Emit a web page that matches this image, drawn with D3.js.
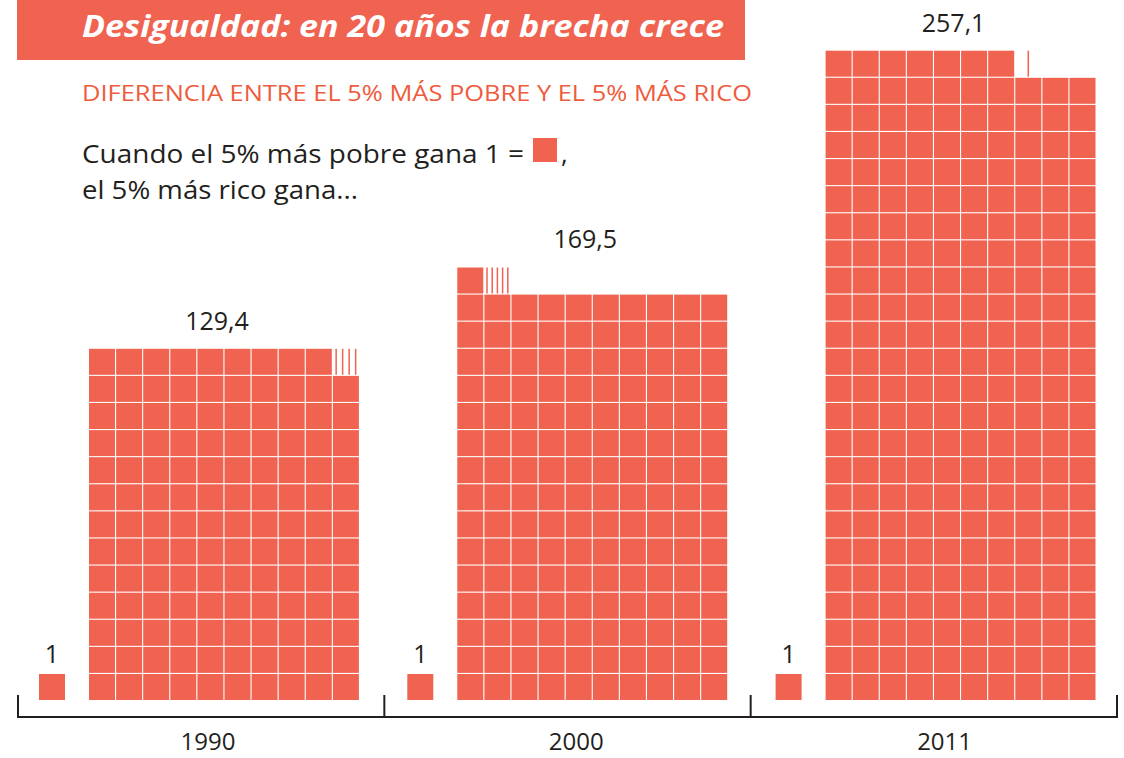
<!DOCTYPE html>
<html>
<head>
<meta charset="utf-8">
<script src="https://cdn.jsdelivr.net/npm/d3@7"></script>
<style>
  html, body { margin: 0; padding: 0; background: #ffffff; }
  svg { display: block; }
</style>
</head>
<body>
<script>
// ---- data ----
const years = ["1990", "2000", "2011"];
const richLabels = ["129,4", "169,5", "257,1"];
const richValues = [129.4, 169.5, 257.1];
// units drawn in the waffle (whole cells + tenths)
const cellsShown = [129.4, 151.5, 237.1];
const poorValues = [1, 1, 1];
const poorLabels = ["1", "1", "1"];
const titleText = "Desigualdad: en 20 años la brecha crece";
const subtitleText = "DIFERENCIA ENTRE EL 5% MÁS POBRE Y EL 5% MÁS RICO";
const legendLine1 = "Cuando el 5% más pobre gana 1 = ";
const legendLine2 = "el 5% más rico gana...";

// ---- layout ----
const W = 1124, H = 758;
const RED = "#F06351", ORANGE = "#EE5B3E", DARK = "#231F20";
const COLS = 10, PITCH = 27.1, CELL = 26;
const baseY = 700;

const svg = d3.select("body").append("svg").attr("width", W).attr("height", H);

// scales
const x = d3.scaleBand().domain(years).range([18, 1117]).padding(0);          // bracket groups
const xg = d3.scaleBand().domain(years).range([39, 39 + 3 * 368.3]).padding(0); // marks
const rowY = d3.scaleLinear().domain([0, 1]).range([baseY, baseY - PITCH]);
const colX = d3.scaleLinear().domain([0, 1]).range([0, PITCH]);

// title box
svg.append("rect").attr("x", 17).attr("y", 0).attr("width", 728).attr("height", 60).attr("fill", RED);
svg.append("text").attr("x", 82).attr("y", 37)
  .attr("font-family", "Open Sans").attr("font-weight", 700).attr("font-style", "italic")
  .attr("font-size", 31).attr("fill", "#fff")
  .attr("textLength", 642).attr("lengthAdjust", "spacingAndGlyphs")
  .text(titleText);

// subtitle
svg.append("text").attr("x", 82).attr("y", 101)
  .attr("font-family", "Open Sans").attr("font-size", 22).attr("fill", ORANGE)
  .attr("textLength", 670).attr("lengthAdjust", "spacingAndGlyphs")
  .text(subtitleText);

// legend text
svg.append("text").attr("x", 82).attr("y", 163)
  .attr("font-family", "Open Sans").attr("font-size", 26).attr("fill", DARK)
  .attr("textLength", 442).attr("lengthAdjust", "spacingAndGlyphs")
  .text(legendLine1);
svg.append("rect").attr("x", 533).attr("y", 138).attr("width", 24).attr("height", 24).attr("fill", RED);
svg.append("text").attr("x", 561).attr("y", 163)
  .attr("font-family", "Open Sans").attr("font-size", 26).attr("fill", DARK).text(",");
svg.append("text").attr("x", 82).attr("y", 199)
  .attr("font-family", "Open Sans").attr("font-size", 26).attr("fill", DARK)
  .attr("textLength", 276).attr("lengthAdjust", "spacingAndGlyphs")
  .text(legendLine2);

// groups
years.forEach((yr, gi) => {
  const singleX = xg(yr);
  const blockX = singleX + 50;

  // poor single cell(s)
  d3.range(poorValues[gi]).forEach(i => {
    svg.append("rect").attr("x", singleX).attr("y", rowY(i + 1) + (PITCH - CELL))
      .attr("width", CELL).attr("height", CELL).attr("fill", RED);
  });
  svg.append("text").attr("x", singleX + CELL / 2).attr("y", rowY(poorValues[gi]) - 10)
    .attr("text-anchor", "middle").attr("font-family", "Open Sans").attr("font-size", 25)
    .attr("fill", DARK).text(poorLabels[gi]);

  // rich waffle
  const v = cellsShown[gi];
  const whole = Math.floor(v);
  const tenths = Math.round((v - whole) * 10);
  const cells = d3.range(whole).map(i => ({ r: Math.floor(i / COLS), c: i % COLS }));
  svg.append("g").selectAll("rect").data(cells).join("rect")
    .attr("x", d => blockX + colX(d.c))
    .attr("y", d => rowY(d.r + 1) + (PITCH - CELL))
    .attr("width", CELL).attr("height", CELL).attr("fill", RED);

  // partial cell as stripes
  const pr = Math.floor(whole / COLS), pc = whole % COLS;
  const px = blockX + colX(pc), py = rowY(pr + 1) + (PITCH - CELL);
  const sp = CELL / tenths;
  svg.append("g").selectAll("rect").data(d3.range(tenths)).join("rect")
    .attr("x", i => px + sp * (i + 0.5) - 0.75)
    .attr("y", py).attr("width", 1.5).attr("height", CELL).attr("fill", RED);

  const topRows = Math.ceil(v / COLS);
  svg.append("text").attr("x", blockX + 128).attr("y", rowY(topRows) - 18)
    .attr("text-anchor", "middle").attr("font-family", "Open Sans").attr("font-size", 25)
    .attr("fill", DARK).text(richLabels[gi]);

  // year label
  svg.append("text").attr("x", singleX + 169).attr("y", 750)
    .attr("text-anchor", "middle").attr("font-family", "Open Sans").attr("font-size", 24)
    .attr("fill", DARK).text(yr);
});

// bracket axis
const axisY = 717;
svg.append("line").attr("x1", 18).attr("x2", 1117).attr("y1", axisY).attr("y2", axisY)
  .attr("stroke", DARK).attr("stroke-width", 2);
const tickXs = years.map(y => x(y)).concat([x.range()[1]]);
svg.append("g").selectAll("line").data(tickXs).join("line")
  .attr("x1", d => d).attr("x2", d => d).attr("y1", 695).attr("y2", axisY + 1)
  .attr("stroke", DARK).attr("stroke-width", 2);
</script>
</body>
</html>
